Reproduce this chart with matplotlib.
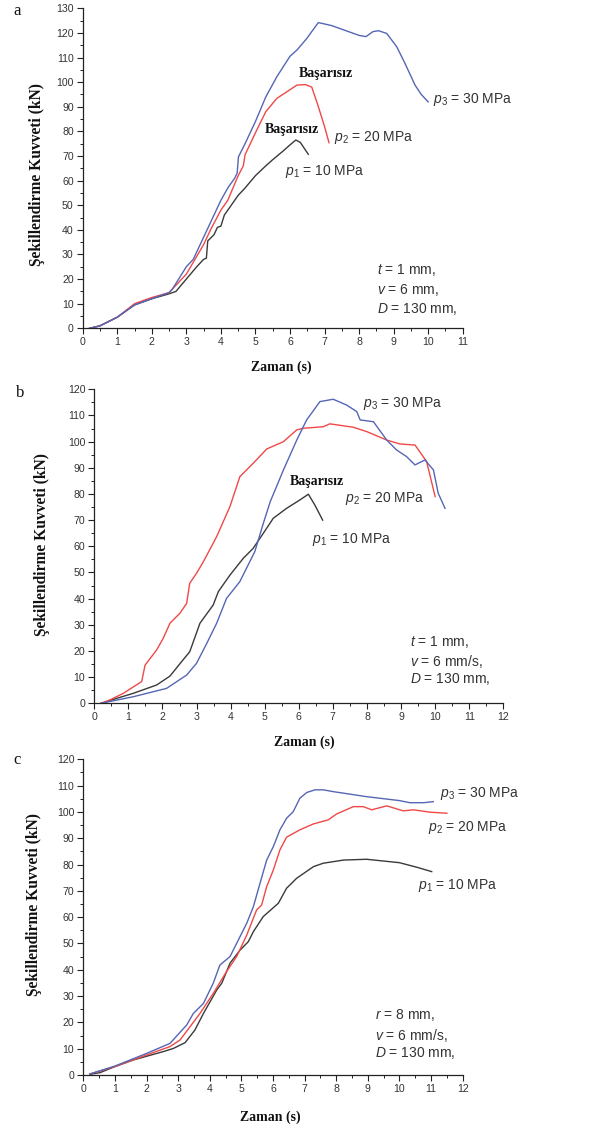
import matplotlib
matplotlib.use("Agg")
import matplotlib.pyplot as plt
from matplotlib.ticker import MultipleLocator

plt.rcParams['font.family'] = ['Liberation Sans', 'DejaVu Sans']
plt.rcParams['mathtext.fontset'] = 'custom'
plt.rcParams['mathtext.rm'] = 'Liberation Sans'
plt.rcParams['mathtext.it'] = 'Liberation Sans:italic'
plt.rcParams['mathtext.bf'] = 'Liberation Sans:bold'

W, H = 598, 1129
BLUE = '#5566b5'
RED = '#f04848'
BLACK = '#3a3a3a'
TXT = '#333333'

# ---------------- Panel a data ----------------
a_p1_t = [0.2, 0.5, 1.0, 1.5, 2.0, 2.5, 2.7, 3.0, 3.3, 3.5, 3.58, 3.62, 3.8, 3.9, 4.0, 4.1, 4.3, 4.5,
          4.7, 5.0, 5.3, 5.5, 5.8, 6.0, 6.17, 6.3, 6.53]
a_p1_f = [0.0, 1.0, 4.5, 9.5, 12.0, 14.0, 15.0, 20.0, 25.0, 28.0, 28.5, 35.5, 38.0, 41.0, 41.5, 46.0,
          50.0, 54.0, 57.0, 62.0, 66.0, 68.5, 72.0, 74.5, 76.5, 75.5, 70.7]
a_p2_t = [0.2, 0.5, 1.0, 1.5, 2.0, 2.5, 3.0, 3.5, 3.7, 4.0, 4.2, 4.5, 4.65, 4.7, 5.04, 5.3, 5.62,
          5.9, 6.2, 6.45, 6.63, 6.8, 7.0, 7.13]
a_p2_f = [0.0, 1.0, 4.5, 10.0, 12.5, 14.5, 22.0, 34.0, 40.0, 48.0, 52.0, 62.0, 66.0, 70.5, 80.6,
          88.0, 93.4, 96.0, 98.8, 99.0, 98.0, 91.0, 82.0, 75.4]
a_p3_t = [0.2, 0.5, 1.0, 1.5, 2.0, 2.5, 2.6, 3.0, 3.2, 3.5, 3.7, 4.0, 4.2, 4.4, 4.47, 4.51, 4.7, 5.0,
          5.3, 5.62, 6.0, 6.2, 6.49, 6.82, 7.2, 7.6, 8.0, 8.2, 8.4, 8.56, 8.8, 9.09, 9.33, 9.62,
          9.8, 10.0]
a_p3_f = [0.0, 1.0, 4.5, 9.5, 12.0, 14.5, 16.0, 25.0, 28.0, 37.0, 43.0, 52.0, 57.0, 61.0, 63.0,
          69.7, 75.0, 84.0, 94.0, 102.2, 110.5, 113.0, 117.8, 124.2, 123.0, 121.0, 119.0, 118.5,
          120.5, 120.9, 119.8, 114.4, 107.6, 98.8, 95.0, 92.0]

# ---------------- Panel b data ----------------
b_p1_t = [0.2, 0.66, 1.14, 1.83, 2.22, 2.56, 2.8, 3.1, 3.49, 3.64, 3.98, 4.37, 4.66, 4.96, 5.25,
          5.64, 6.03, 6.28, 6.47, 6.7]
b_p1_f = [0.0, 1.9, 3.8, 7.0, 10.4, 15.9, 19.7, 30.6, 37.6, 42.7, 49.0, 55.4, 59.2, 65.0, 70.7,
          74.5, 77.7, 79.9, 75.8, 70.0]
b_p2_t = [0.2, 0.46, 0.85, 1.39, 1.49, 1.83, 2.02, 2.22, 2.51, 2.71, 2.8, 3.0, 3.2, 3.59, 3.98,
          4.27, 4.66, 5.06, 5.55, 5.94, 6.13, 6.72, 6.91, 7.6, 8.0, 8.58, 8.97, 9.41, 9.75, 10.0]
b_p2_f = [0.0, 1.3, 3.8, 8.3, 14.6, 20.4, 24.8, 30.6, 34.4, 38.2, 45.9, 49.7, 54.1, 63.7, 75.2,
          86.6, 91.7, 97.2, 100.0, 104.5, 105.1, 105.7, 106.8, 105.5, 103.8, 100.6, 99.1, 98.7,
          92.4, 79.0]
b_p3_t = [0.2, 1.14, 2.12, 2.71, 3.0, 3.3, 3.59, 3.88, 4.27, 4.71, 4.96, 5.16, 5.55, 5.94, 6.23,
          6.62, 7.01, 7.4, 7.7, 7.8, 8.19, 8.58, 8.87, 9.16, 9.41, 9.7, 9.95, 10.09, 10.29]
b_p3_f = [0.0, 2.5, 5.7, 10.8, 15.3, 22.9, 30.6, 40.1, 46.5, 58.0, 68.8, 77.0, 89.2, 100.6, 108.3,
          115.3, 116.2, 114.0, 111.5, 108.3, 107.6, 100.6, 96.8, 94.3, 91.1, 93.0, 89.2, 80.3,
          74.5]

# ---------------- Panel c data ----------------
c_p1_t = [0.21, 0.53, 1.0, 1.58, 2.53, 2.85, 3.22, 3.53, 3.8, 4.22, 4.38, 4.64, 4.96, 5.22, 5.38,
          5.69, 6.17, 6.43, 6.75, 7.28, 7.59, 8.23, 8.96, 10.0, 10.54, 11.02]
c_p1_f = [0.25, 0.9, 3.2, 5.7, 8.9, 10.1, 12.3, 17.1, 23.4, 32.3, 34.9, 42.5, 47.5, 50.7, 54.5,
          60.2, 65.3, 71.0, 74.8, 79.2, 80.5, 81.7, 82.0, 80.7, 79.0, 77.3]
c_p2_t = [0.21, 1.0, 2.0, 2.74, 3.06, 3.69, 4.11, 4.53, 4.85, 5.17, 5.48, 5.64, 5.8, 6.01, 6.22,
          6.43, 6.85, 7.27, 7.75, 8.01, 8.54, 8.86, 9.12, 9.6, 10.12, 10.44, 10.97, 11.5]
c_p2_f = [0.4, 3.2, 7.6, 10.8, 13.3, 23.4, 31.0, 39.3, 45.0, 53.2, 62.7, 64.6, 71.6, 77.9, 85.6,
          90.4, 93.2, 95.4, 97.0, 99.2, 102.0, 102.0, 100.8, 102.3, 100.4, 100.8, 99.9, 99.5]
c_p3_t = [0.21, 1.0, 2.0, 2.74, 3.27, 3.48, 3.8, 4.11, 4.32, 4.64, 5.17, 5.38, 5.59, 5.8, 6.01,
          6.22, 6.43, 6.64, 6.85, 7.07, 7.33, 7.59, 7.91, 8.96, 10.0, 10.33, 10.76, 11.07]
c_p3_f = [0.4, 3.4, 8.2, 12.0, 19.0, 23.4, 27.2, 34.9, 41.8, 45.0, 57.7, 64.0, 72.9, 81.7, 86.8,
          93.2, 97.6, 100.1, 105.2, 107.4, 108.4, 108.4, 107.7, 105.8, 104.3, 103.5, 103.5, 103.9]

series_labels = [r'$p_{\mathit{1}}$ = 10 MPa', r'$p_{\mathit{2}}$ = 20 MPa', r'$p_{\mathit{3}}$ = 30 MPa']
fail_label = 'Başarısız'
xlabel = 'Zaman (s)'
ylabel = 'Şekillendirme Kuvveti (kN)'

fig = plt.figure(figsize=(W / 100, H / 100), dpi=100)


def px_axes(l, t, r, b):
    return fig.add_axes([l / W, 1 - b / H, (r - l) / W, (b - t) / H])


def ftext(x, y, s, **kw):
    fig.text(x / W, 1 - y / H, s, **kw)


def style(ax, xmax, ymax):
    ax.set_xlim(0, xmax)
    ax.set_ylim(0, ymax)
    for sp in ['top', 'right']:
        ax.spines[sp].set_visible(False)
    for sp in ['left', 'bottom']:
        ax.spines[sp].set_color('#222222')
        ax.spines[sp].set_linewidth(0.9)
    ax.xaxis.set_major_locator(MultipleLocator(1))
    ax.xaxis.set_minor_locator(MultipleLocator(0.5))
    ax.yaxis.set_major_locator(MultipleLocator(10))
    ax.yaxis.set_minor_locator(MultipleLocator(5))
    ax.tick_params(which='major', direction='out', length=4, width=0.8, color='#222222',
                   labelsize=7.6, labelcolor=TXT, pad=2.5)
    ax.tick_params(which='minor', direction='out', length=2.5, width=0.7, color='#222222')
    ax.patch.set_alpha(0)


lw = 1.0
lab_kw = dict(fontsize=10, color=TXT, va='center', ha='left')
ann_kw = dict(fontsize=10, color=TXT, va='center', ha='left')
fail_kw = dict(fontsize=10, color='#111111', fontweight='bold', family='Liberation Serif',
               va='center', ha='center')
axl_kw = dict(fontsize=10, color='#111111', fontweight='bold', family='Liberation Serif',
              va='center', ha='center')
ayl_kw = dict(fontsize=11.2, color='#111111', fontweight='bold', family='Liberation Serif',
              va='center', ha='center', rotation=90)

# ---------------- Panel a ----------------
ax = px_axes(82.7, 8.3, 462.7, 328.3)
style(ax, 11, 130)
ax.plot(a_p1_t, a_p1_f, color=BLACK, lw=lw)
ax.plot(a_p2_t, a_p2_f, color=RED, lw=lw)
ax.plot(a_p3_t, a_p3_f, color=BLUE, lw=lw)
ftext(17, 11, 'a', fontsize=12, family='Liberation Serif', color='#111111', va='center', ha='center')
ftext(326, 74, fail_label, **fail_kw)
ftext(292, 129, fail_label, **fail_kw)
ftext(433, 100, series_labels[2], **lab_kw)
ftext(334, 137, series_labels[1], **lab_kw)
ftext(285, 171, series_labels[0], **lab_kw)
ftext(377, 270, r'$t$ = 1 mm,', **ann_kw)
ftext(377, 290, r'$v$ = 6 mm,', **ann_kw)
ftext(377, 309, r'$D$ = 130 mm,', **ann_kw)
ftext(281, 367, xlabel, **axl_kw)
ftext(37, 175, ylabel, **ayl_kw)

# ---------------- Panel b ----------------
ax = px_axes(94.3, 389.3, 503.3, 703.3)
style(ax, 12, 120)
ax.plot(b_p1_t, b_p1_f, color=BLACK, lw=lw)
ax.plot(b_p2_t, b_p2_f, color=RED, lw=lw)
ax.plot(b_p3_t, b_p3_f, color=BLUE, lw=lw)
ftext(20, 393, 'b', fontsize=12, family='Liberation Serif', color='#111111', va='center', ha='center')
ftext(317, 482, fail_label, **fail_kw)
ftext(363, 403, series_labels[2], **lab_kw)
ftext(345, 498, series_labels[1], **lab_kw)
ftext(312, 540, series_labels[0], **lab_kw)
ftext(410, 642, r'$t$ = 1 mm,', **ann_kw)
ftext(410, 661, r'$v$ = 6 mm/s,', **ann_kw)
ftext(410, 679, r'$D$ = 130 mm,', **ann_kw)
ftext(304, 742, xlabel, **axl_kw)
ftext(42, 545, ylabel, **ayl_kw)

# ---------------- Panel c ----------------
ax = px_axes(83.3, 759.3, 462.7, 1075)
style(ax, 12, 120)
ax.plot(c_p1_t, c_p1_f, color=BLACK, lw=lw)
ax.plot(c_p2_t, c_p2_f, color=RED, lw=lw)
ax.plot(c_p3_t, c_p3_f, color=BLUE, lw=lw)
ftext(17, 760, 'c', fontsize=12, family='Liberation Serif', color='#111111', va='center', ha='center')
ftext(440, 793, series_labels[2], **lab_kw)
ftext(428, 827, series_labels[1], **lab_kw)
ftext(418, 885, series_labels[0], **lab_kw)
ftext(375, 1015, r'$r$ = 8 mm,', **ann_kw)
ftext(375, 1035, r'$v$ = 6 mm/s,', **ann_kw)
ftext(375, 1053, r'$D$ = 130 mm,', **ann_kw)
ftext(270, 1117, xlabel, **axl_kw)
ftext(34, 905, ylabel, **ayl_kw)

fig.savefig('out.png', dpi=100)
